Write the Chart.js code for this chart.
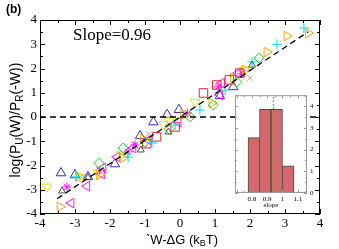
<!DOCTYPE html>
<html><head><meta charset="utf-8">
<script src="https://cdn.jsdelivr.net/npm/chart.js@4/dist/chart.umd.min.js"></script>
<style>
html,body{margin:0;padding:0;background:#fff;overflow:hidden}
#wrap{position:relative;width:339px;height:249px;background:#fff}
#main{position:absolute;left:0;top:0}
#inset{position:absolute;left:225px;top:88px}
</style></head><body>
<div id="wrap"><canvas id="main" width="339" height="249"></canvas><canvas id="inset" width="100" height="125"></canvas></div>
<script>
// ---- main scatter data (W-ΔG, log ratio) ----
const blueUp=[[-3.4,-2.31],[-3.0,-2.39],[-2.63,-2.47],[-1.86,-1.94],[-1.14,-0.78],[-0.76,-0.21],[-0.37,0.1],[-0.03,0.3],[1.14,0.87],[1.52,1.24]];
const yellowDown=[[-3.8,-2.88],[-2.86,-2.47],[-2.35,-2.3],[-1.7,-1.55],[-0.47,-0.29],[-0.3,-0.15],[0.43,0.62],[1.85,1.95]];
const orangeRight=[[-3.43,-3.7],[-2.9,-2.45],[-2.31,-2.39],[-1.63,-1.69],[-1.05,-0.9],[0.1,0.1],[0.91,0.58],[1.52,1.61],[1.86,1.94],[2.48,2.68],[3.05,3.34],[3.66,3.46]];
const magentaLeft=[[-3.11,-3.55],[-2.66,-2.85],[-2.2,-2.1],[-2.23,-2.35],[-1.8,-1.65],[-1.34,-1.28],[-0.9,-0.95],[-0.05,-0.21],[1.14,0.91],[1.19,1.4],[1.66,1.81]];
const redSquare=[[-0.95,-1.1],[-0.67,-0.82],[-0.14,-0.41],[0.67,0.99],[1.05,1.32],[1.41,1.53],[1.71,1.81]];
const greenDiamond=[[-2.31,-1.9],[-1.63,-1.28],[-1.0,-1.03],[-0.3,-0.5],[0.29,0.0],[0.95,0.49],[1.62,1.44],[2.26,2.43]];
const cyanPlus=[[-2.97,-2.47],[-1.48,-1.65],[-0.8,-1.07],[-0.14,-0.33],[0.57,0.29],[1.29,1.11],[2.06,2.27],[2.77,3.0],[3.54,3.67]];
const magentaStar=[[-3.23,-2.88],[-2.3,-2.2],[-1.49,-1.44],[-1.29,-1.15],[0.22,0.16],[1.09,1.24],[1.76,1.8]];
const grayX=[[-2.3,-2.2],[-0.9,-0.7],[-0.29,-0.33],[2.0,1.6]];
const darkTri=[[-3.37,-3.05],[-2.63,-2.5],[-1.12,-1.36],[-0.33,-0.62],[2.06,2.14]];
// reference lines
const fitLine=[[-3.51,-3.37],[3.66,3.51]];
const zeroLine=[[-4,0],[4,0]];
const mainTicks=[-4,-3,-2,-1,0,1,2,3,4];
// ---- inset histogram (slope distribution) ----
const binCenters=[0.8125,0.8875,0.9625,1.0375];
const binHeights=[2.55,3.85,3.85,1.25];
const meanSlope=0.935;
const insetXTicks=[0.8,0.9,1,1.1];
const insetYTicks=[0,1,2,3,4];

const pts=a=>a.map(p=>({x:p[0],y:p[1]}));
function sc(data,style,color,r,rot){
  return {type:'scatter',data:pts(data),pointStyle:style,pointRadius:r,pointRotation:rot||0,
    borderColor:color,backgroundColor:'rgba(0,0,0,0)',pointBorderWidth:1,borderWidth:1,order:1};
}
function ln(data,dash){
  return {type:'line',data:pts(data),borderColor:'#000',borderWidth:1.3,borderDash:dash,pointRadius:0,fill:false,order:0};
}

function drawRich(ctx,segs,size,family,cx,cy,rot){
  ctx.save();
  ctx.translate(cx,cy);ctx.rotate(rot);
  let w=0;
  segs.forEach(s=>{ctx.font=(s.sub?Math.round(size*0.68):size)+'px '+family;w+=ctx.measureText(s.t).width;});
  let x=-w/2;
  ctx.textBaseline='middle';ctx.textAlign='left';ctx.fillStyle='#000';
  segs.forEach(s=>{ctx.font=(s.sub?Math.round(size*0.68):size)+'px '+family;
    ctx.fillText(s.t,x,s.sub?size*0.3:0);x+=ctx.measureText(s.t).width;});
  ctx.restore();
}

const mainDeco={id:'mainDeco',
  afterDraw(chart){
    const {ctx,chartArea:a,scales:{x,y}}=chart;
    ctx.save();
    ctx.strokeStyle='#000';ctx.lineWidth=1;
    ctx.strokeRect(a.left+0.5,a.top+0.5,a.right-a.left-1,a.bottom-a.top-1);
    ctx.beginPath();
    for(let v=-4;v<=4;v+=0.5){
      const L=Number.isInteger(v)?5:3;
      const px=Math.round(x.getPixelForValue(v))+0.5;
      ctx.moveTo(px,a.bottom);ctx.lineTo(px,a.bottom-L);
      ctx.moveTo(px,a.top);ctx.lineTo(px,a.top+L);
      const py=Math.round(y.getPixelForValue(v))+0.5;
      ctx.moveTo(a.left,py);ctx.lineTo(a.left+L,py);
      ctx.moveTo(a.right,py);ctx.lineTo(a.right-L,py);
    }
    ctx.stroke();
    ctx.fillStyle='#000';
    ctx.font='bold 12px "Liberation Sans"';ctx.textBaseline='middle';ctx.textAlign='left';
    ctx.fillText('(b)',6,10);
    ctx.font='17px "Liberation Serif"';
    ctx.fillText('Slope=0.96',73,36);
    drawRich(ctx,[{t:'log(P'},{t:'U',sub:true},{t:'(W)/P'},{t:'R',sub:true},{t:'(-W))'}],14,'"Liberation Sans"',16,120,-Math.PI/2);
    drawRich(ctx,[{t:'ˋW-ΔG (k'},{t:'B',sub:true},{t:'T)'}],13,'"Liberation Sans"',182,240,0);
    ctx.restore();
  }};

new Chart(document.getElementById('main'),{
  data:{datasets:[
    ln(zeroLine,[6,4]),ln(fitLine,[6,4]),
    sc(grayX,'crossRot','#b8a8a8',4),
    sc(darkTri,'triangle','#505050',4),
    sc(greenDiamond,'rectRot','#22dd22',5),
    sc(cyanPlus,'cross','#00e0ee',5),
    sc(redSquare,'rect','#e02828',6),
    sc(yellowDown,'triangle','#e6e000',5.5,180),
    sc(orangeRight,'triangle','#f5a500',5.5,90),
    sc(magentaLeft,'triangle','#ff10ff',5.5,-90),
    sc(magentaStar,'star','#ff10ff',4.5),
    sc(blueUp,'triangle','#3030c0',5.5)
  ]},
  options:{responsive:false,animation:false,devicePixelRatio:1,
    layout:{padding:{left:0,top:20,right:19,bottom:0}},
    plugins:{legend:{display:false},tooltip:{enabled:false}},
    scales:{
      x:{type:'linear',min:-4,max:4,grid:{display:false,drawTicks:false},border:{display:false},
        afterBuildTicks(s){s.ticks=mainTicks.map(v=>({value:v}));},
        ticks:{font:{family:'"Liberation Serif"',size:13},color:'#000',padding:2,maxRotation:0,autoSkip:false},
        afterFit(s){s.height=35;}},
      y:{type:'linear',min:-4,max:4,grid:{display:false,drawTicks:false},border:{display:false},
        afterBuildTicks(s){s.ticks=mainTicks.map(v=>({value:v}));},
        ticks:{font:{family:'"Liberation Serif"',size:13},color:'#000',padding:3,autoSkip:false},
        afterFit(s){s.width=40;}}
    }},
  plugins:[mainDeco]
});

const insetDeco={id:'insetDeco',
  beforeDraw(chart){
    const {ctx,chartArea:a}=chart;
    ctx.save();ctx.fillStyle='#fff';ctx.fillRect(a.left,a.top,a.right-a.left,a.bottom-a.top);ctx.restore();
  },
  afterDraw(chart){
    const {ctx,chartArea:a,scales:{x,y}}=chart;
    ctx.save();
    const mx=Math.round(x.getPixelForValue(meanSlope))+0.5;
    ctx.strokeStyle='#44bb22';ctx.lineWidth=1.5;ctx.setLineDash([1.5,2]);
    ctx.beginPath();ctx.moveTo(mx,a.bottom);ctx.lineTo(mx,a.top);ctx.stroke();
    ctx.setLineDash([]);
    ctx.strokeStyle='#999';ctx.lineWidth=1;
    ctx.strokeRect(a.left+0.5,a.top+0.5,a.right-a.left-1,a.bottom-a.top-1);
    ctx.beginPath();
    for(let v=0;v<=4.5;v+=0.5){
      const L=Number.isInteger(v)?3:2;
      const py=Math.round(y.getPixelForValue(v))+0.5;
      ctx.moveTo(a.left,py);ctx.lineTo(a.left+L,py);
      ctx.moveTo(a.right,py);ctx.lineTo(a.right-L,py);
    }
    for(let v=0.7;v<=1.151;v+=0.05){
      const L=Math.abs(v*10-Math.round(v*10))<1e-6?3:2;
      const px=Math.round(x.getPixelForValue(v))+0.5;
      ctx.moveTo(px,a.bottom);ctx.lineTo(px,a.bottom-L);
      ctx.moveTo(px,a.top);ctx.lineTo(px,a.top+L);
    }
    ctx.stroke();
    ctx.fillStyle='#000';ctx.font='7px "Liberation Serif"';ctx.textAlign='center';ctx.textBaseline='middle';
    ctx.fillText('slope',(a.left+a.right)/2,117);
    ctx.restore();
  }};

new Chart(document.getElementById('inset'),{
  type:'bar',
  data:{datasets:[{data:binCenters.map((c,i)=>({x:c,y:binHeights[i]})),
    backgroundColor:'#d4686b',borderColor:'#4a4a4a',borderWidth:1,barPercentage:1,categoryPercentage:1}]},
  options:{responsive:false,animation:false,devicePixelRatio:1,
    layout:{padding:{left:10,top:6,right:0,bottom:0}},
    plugins:{legend:{display:false},tooltip:{enabled:false}},
    scales:{
      x:{type:'linear',min:0.69,max:1.16,offset:false,grid:{display:false,drawTicks:false},border:{display:false},
        afterBuildTicks(s){s.ticks=insetXTicks.map(v=>({value:v}));},
        ticks:{font:{family:'"Liberation Serif"',size:7},color:'#000',padding:2,maxRotation:0,autoSkip:false,
          callback:v=>String(Math.round(v*10)/10)},
        afterFit(s){s.height=20;}},
      y:{type:'linear',position:'right',min:0,max:4.5,grid:{display:false,drawTicks:false},border:{display:false},
        afterBuildTicks(s){s.ticks=insetYTicks.map(v=>({value:v}));},
        ticks:{font:{family:'"Liberation Serif"',size:7},color:'#000',padding:3,autoSkip:false},
        afterFit(s){s.width=18;}}
    }},
  plugins:[insetDeco]
});
</script></body></html>
